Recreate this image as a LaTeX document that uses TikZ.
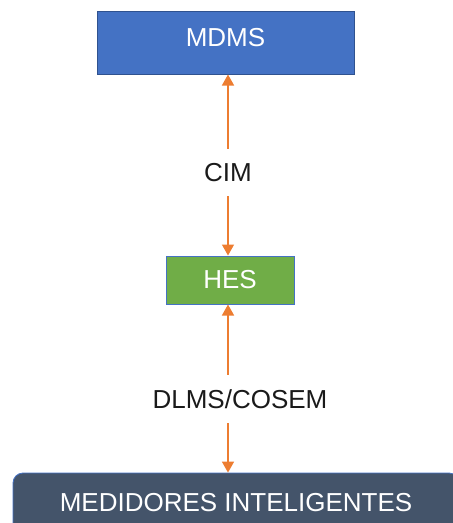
\documentclass[tikz,border=0pt]{standalone}
\usepackage{fontspec}
\setmainfont{Liberation Sans}
\usetikzlibrary{arrows.meta}
\definecolor{mdmsblue}{HTML}{4472C4}
\definecolor{mdmsedge}{HTML}{2F528F}
\definecolor{hesgreen}{HTML}{70AD47}
\definecolor{meterslate}{HTML}{44546A}
\definecolor{linkorange}{HTML}{ED7D31}
\definecolor{labelink}{HTML}{1A1A1A}
\tikzset{
  boxtext/.style={text=white, font=\fontsize{26}{30}\selectfont, inner sep=0pt},
  linklabel/.style={fill=white, text=labelink, font=\fontsize{26}{30}\selectfont, inner ysep=14.5pt, inner xsep=2pt},
  link/.style={draw=linkorange, line width=1.5pt, {Triangle[width=12pt,length=11pt]}-{Triangle[width=12pt,length=11pt]}}
}
\begin{document}
\begin{tikzpicture}[x=1pt, y=-1pt]
  \useasboundingbox (0,0) rectangle (453,523);
  % system layers
  \node[boxtext, draw=mdmsedge, line width=1pt, fill=mdmsblue, minimum width=257pt, minimum height=63pt, text depth=10pt] (mdms) at (225.5,42.5) {MDMS};
  \node[boxtext, draw=mdmsblue, line width=1pt, fill=hesgreen, minimum width=128pt, minimum height=48pt] (hes) at (230,280) {HES};
  \node[boxtext, draw=mdmsblue, line width=0.8pt, fill=meterslate, rounded corners=10pt, minimum width=446pt, minimum height=60pt] (meters) at (236,503) {MEDIDORES INTELIGENTES};
  % vertical axis shared by both links
  \coordinate (axis) at (228,0);
  % links between layers
  \draw[link] (axis |- mdms.south) -- (axis |- hes.north);
  \draw[link] (axis |- hes.south) -- (axis |- meters.north);
  % protocol labels, masking the link lines
  \node[linklabel] (cim) at (228,172.5) {CIM};
  \node[linklabel] (dlms) at (240,399) {DLMS/COSEM};
\end{tikzpicture}
\end{document}
